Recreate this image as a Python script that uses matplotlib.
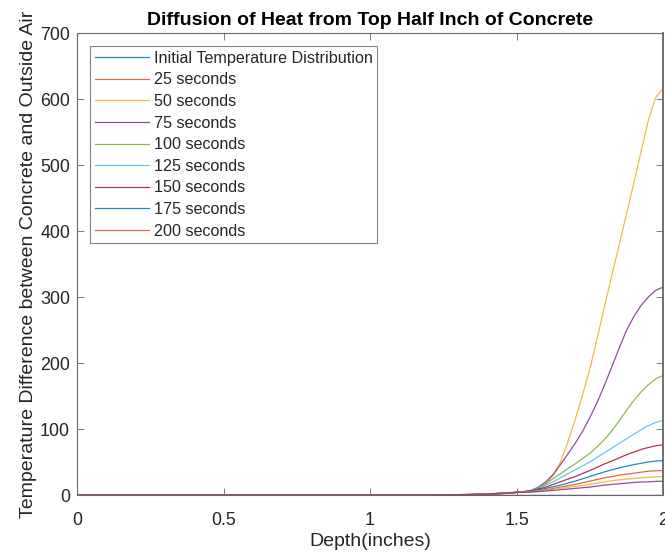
import matplotlib
matplotlib.use("Agg")
import matplotlib.pyplot as plt

# ── Data ───────────────────────────────────────────────────────────────────────
depth = [0.0, 0.5, 1.0, 1.2, 1.3, 1.4, 1.45,
         1.5, 1.525, 1.55, 1.575, 1.6, 1.625, 1.65, 1.675, 1.7, 1.725, 1.75,
         1.775, 1.8, 1.825, 1.85, 1.875, 1.9, 1.925, 1.95, 1.975, 2.0]

# initial spike and 25 s profile sit right at the surface, far above the y-limit
spike_depth = [0.0, 2.0, 2.0]
t_initial = [0, 0, 2000]
t_25 = [0, 0, 1200]

t_50 = [0, 0, 0, 0, 0.1, 0.6, 1.6,
        3.5, 4.5, 6, 10, 17, 30, 50, 80, 114, 151, 190,
        237, 285, 332, 378, 425, 472, 520, 568, 602, 616]
t_75 = [0, 0, 0, 0, 0.2, 0.9, 2.0,
        4, 5, 7, 12, 20, 31, 46, 62, 78, 96, 117,
        140, 166, 194, 222, 249, 270, 287, 300, 310, 315]
t_100 = [0, 0, 0, 0, 0.2, 1.0, 2.2,
         4, 5, 7, 11, 17, 25, 32, 40, 47, 55, 63,
         73, 84, 97, 112, 128, 143, 156, 167, 176, 181]
t_125 = [0, 0, 0, 0, 0.3, 1.1, 2.4,
         4, 5, 7, 10, 15, 20, 26, 32, 38, 44, 50,
         57, 64, 71, 78, 85, 92, 99, 105, 110, 113]
t_150 = [0, 0, 0, 0, 0.3, 1.2, 2.5,
         4, 5, 6, 9, 12, 16, 20, 24, 28, 32.5, 37,
         42, 47, 51.5, 56, 61, 65, 69, 72, 74.5, 76]
t_175 = [0, 0, 0, 0, 0.4, 1.3, 2.6,
         4, 5, 6, 8, 10, 12.5, 15, 18, 21, 24.5, 28,
         31.5, 35, 38, 41, 43.5, 46, 48, 50, 51.5, 52]
t_200 = [0, 0, 0, 0, 0.4, 1.4, 2.7,
         4, 4.5, 5, 6.5, 8, 10, 12, 14, 16, 18.5, 21,
         23.5, 26, 28, 30, 31.5, 33, 34.5, 36, 36.7, 37]
t_225 = [0, 0, 0, 0, 0.5, 1.5, 2.8,
         4, 4.5, 5, 6, 7, 8.5, 10, 11.5, 13, 14.5, 16,
         18, 20, 21.5, 23, 24, 25, 26, 27, 27.6, 28]
t_250 = [0, 0, 0, 0, 0.5, 1.6, 2.9,
         4, 4.2, 4.5, 5.2, 6, 7, 8, 9, 10, 11, 12,
         13.5, 15, 16, 17, 18, 19, 19.6, 20, 20.6, 21]

labels = ["Initial Temperature Distribution", "25 seconds", "50 seconds",
          "75 seconds", "100 seconds", "125 seconds", "150 seconds",
          "175 seconds", "200 seconds"]

x_ticks = [0, 0.5, 1, 1.5, 2]
x_ticklabels = ["0", "0.5", "1", "1.5", "2"]
y_ticks = [0, 100, 200, 300, 400, 500, 600, 700]

# ── Style ──────────────────────────────────────────────────────────────────────
MATLAB = ["#0072BD", "#D95319", "#EDB120", "#7E2F8E", "#77AC30", "#4DBEEE", "#A2142F"]
TXT = "#262626"
EDGE = "#666666"

plt.rcParams["font.family"] = ["Liberation Sans", "DejaVu Sans"]

fig = plt.figure(figsize=(6.65, 5.52), dpi=100)
ax = fig.add_axes([77 / 665, 1 - 495 / 552, 586 / 665, 462 / 552])

series = [(spike_depth, t_initial), (spike_depth, t_25),
          (depth, t_50), (depth, t_75), (depth, t_100), (depth, t_125),
          (depth, t_150), (depth, t_175), (depth, t_200),
          (depth, t_225), (depth, t_250)]

handles = []
for i, (xd, yd) in enumerate(series):
    z = 1 if xd is spike_depth else 2
    ln, = ax.plot(xd, yd, color=MATLAB[i % len(MATLAB)], linewidth=0.9,
                  alpha=0.85, zorder=z)
    handles.append(ln)

ax.set_xlim(0, 2)
ax.set_ylim(0, 700)
ax.set_xticks(x_ticks)
ax.set_xticklabels(x_ticklabels)
ax.set_yticks(y_ticks)
ax.tick_params(direction="in", top=True, right=True, length=5, width=0.6,
               color=EDGE, labelsize=12.9, labelcolor=TXT)
ax.tick_params(axis="y", pad=5)
ax.tick_params(axis="x", pad=12)
for sp in ax.spines.values():
    sp.set_color(EDGE)
    sp.set_linewidth(0.8)
ax.spines["right"].set_linewidth(1.3)

ax.set_title("Diffusion of Heat from Top Half Inch of Concrete",
             fontsize=14, fontweight="bold", color="black", pad=6)
ax.set_xlabel("Depth(inches)", fontsize=14, color=TXT, labelpad=3)
ax.set_ylabel("Temperature Difference between Concrete and Outside Air",
              fontsize=14, color=TXT, labelpad=2)

leg = ax.legend(handles[:9], labels, loc="upper left", fontsize=11.6,
                frameon=True, fancybox=False, handlelength=3.35,
                handletextpad=0.3, labelspacing=0.41, borderpad=0.3,
                borderaxespad=0.8)
leg.get_frame().set_edgecolor(EDGE)
leg.get_frame().set_linewidth(0.8)
for t in leg.get_texts():
    t.set_color(TXT)

fig.savefig("out.png", dpi=100)
